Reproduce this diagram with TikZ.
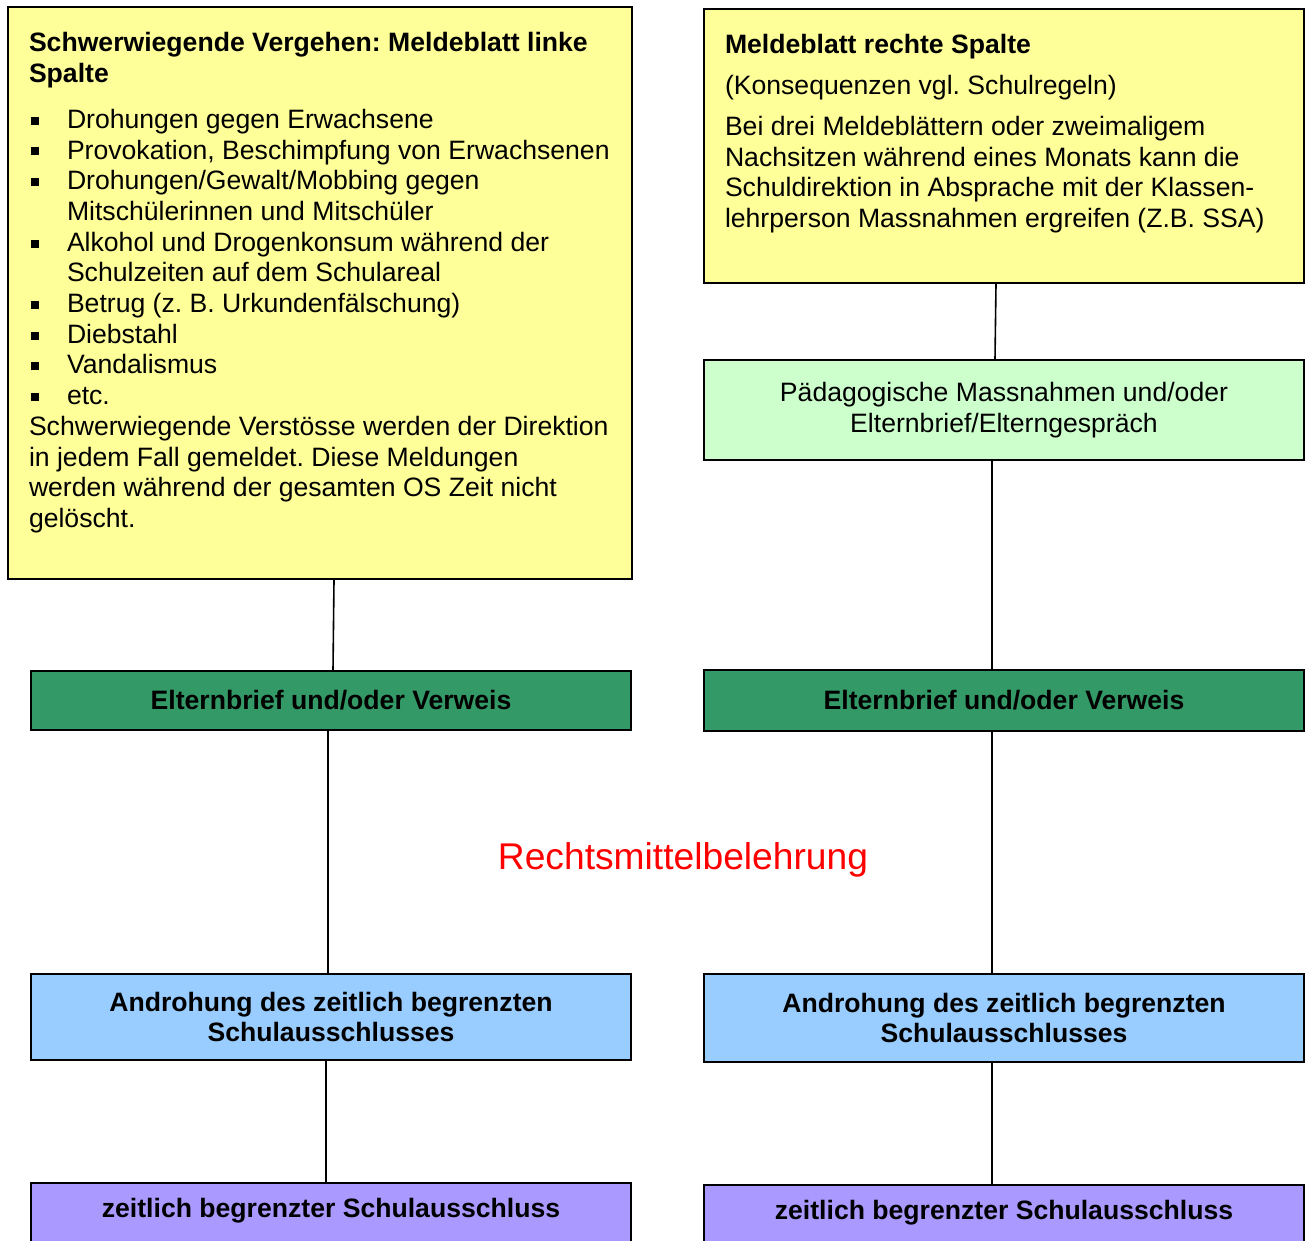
\documentclass[tikz,border=0pt]{standalone}
\usepackage{fontspec}
\setmainfont{Liberation Sans}
\usetikzlibrary{positioning}

\definecolor{sheetyellow}{HTML}{FFFF99}
\definecolor{paleGreen}{HTML}{CCFFCC}
\definecolor{darkGreen}{HTML}{339966}
\definecolor{skyBlue}{HTML}{99CCFF}
\definecolor{lavender}{HTML}{AA99FF}

\newcommand{\sqitem}{\hangindent=19pt\hangafter=1\noindent\makebox[19pt][l]{\hspace{1pt}\rule[1.8pt]{4pt}{4pt}}}

\begin{document}
\begin{tikzpicture}
		[x=0.5pt, y=-0.5pt,
		sheet/.style ={rectangle, draw=black, line width=1pt, fill=sheetyellow, anchor=north west,
		inner xsep=10.5pt, inner ysep=11.75pt, font=\fontsize{13.3}{15.35}\selectfont\frenchspacing},
		block/.style ={rectangle, draw=black, line width=1pt, minimum width=300pt, align=center,
		inner sep=0pt, font=\fontsize{13.3}{15.35}\selectfont\frenchspacing},
		boldblock/.style = {block, font=\fontsize{13.3}{15.35}\selectfont\bfseries},
		line/.style ={draw, line width=0.8pt},
		]
		\useasboundingbox (0,0) rectangle (1307,1241);
		\clip (0,0) rectangle (1307,1241);

		\draw (7,6) node[sheet] (yL) {\begin{minipage}[t][262.5pt][t]{291pt}\raggedright
			\strut\textbf{Schwerwiegende Vergehen: Meldeblatt linke}\newline
			\textbf{Spalte}\par\vspace{7.5pt}
			\sqitem Drohungen gegen Erwachsene\par
			\sqitem Provokation, Beschimpfung von Erwachsenen\par
			\sqitem Drohungen/Gewalt/Mobbing gegen\newline Mitschülerinnen und Mitschüler\par
			\sqitem Alkohol und Drogenkonsum während der\newline Schulzeiten auf dem Schulareal\par
			\sqitem Betrug (z. B. Urkundenfälschung)\par
			\sqitem Diebstahl\par
			\sqitem Vandalismus\par
			\sqitem etc.\par
			\noindent Schwerwiegende Verstösse werden der Direktion\newline
			in jedem Fall gemeldet. Diese Meldungen\newline
			werden während der gesamten OS Zeit nicht\newline
			gelöscht.
		\end{minipage}};
		\draw (703,8) node[sheet] (yR) {\begin{minipage}[t][113.5pt][t]{279pt}\raggedright
			\strut\textbf{Meldeblatt rechte Spalte}\par\vspace{5pt}
			(Konsequenzen vgl. Schulregeln)\par\vspace{5pt}
			Bei drei Meldeblättern oder zweimaligem\newline
			Nachsitzen während eines Monats kann die\newline
			Schuldirektion in Absprache mit der Klassen-\newline
			lehrperson Massnahmen ergreifen (Z.B. SSA)
		\end{minipage}};

		\draw (1004,410) node[block, fill=paleGreen, minimum height=50pt] (pG) {Pädagogische Massnahmen und/oder\\ Elternbrief/Elterngespräch};
		\draw (331,700.5) node[boldblock, fill=darkGreen, minimum height=29.5pt] (gL) {Elternbrief und/oder Verweis};
		\draw (1004,700.5) node[boldblock, fill=darkGreen, minimum height=30.5pt] (gR) {Elternbrief und/oder Verweis};
		\draw (331,1017) node[boldblock, fill=skyBlue, minimum height=43pt] (bL) {Androhung des zeitlich begrenzten\\ Schulausschlusses};
		\draw (1004,1018) node[boldblock, fill=skyBlue, minimum height=44pt] (bR) {Androhung des zeitlich begrenzten\\ Schulausschlusses};
		\draw (331,1182) node[boldblock, fill=lavender, anchor=north, text height=17pt, text depth=30pt] (zL) {zeitlich begrenzter Schulausschluss};
		\draw (1004,1184) node[boldblock, fill=lavender, anchor=north, text height=17pt, text depth=30pt] (zR) {zeitlich begrenzter Schulausschluss};

		\draw (683,860) node[font=\fontsize{18.6}{22}\selectfont, text=red] (rmb) {Rechtsmittelbelehrung};

		\path[line]
		([xshift=7pt]yL.south) edge ([xshift=1pt]gL.north)
		([xshift=-1.5pt]gL.south) edge ([xshift=-1.5pt]bL.north)
		([xshift=-2.5pt]bL.south) edge ([xshift=-2.5pt]zL.north)
		([xshift=-4pt]yR.south) edge ([xshift=-4.5pt]pG.north)
		([xshift=-6pt]pG.south) edge ([xshift=-6pt]gR.north)
		([xshift=-6pt]gR.south) edge ([xshift=-6pt]bR.north)
		([xshift=-6pt]bR.south) edge ([xshift=-6pt]zR.north);
	\end{tikzpicture}
\end{document}
